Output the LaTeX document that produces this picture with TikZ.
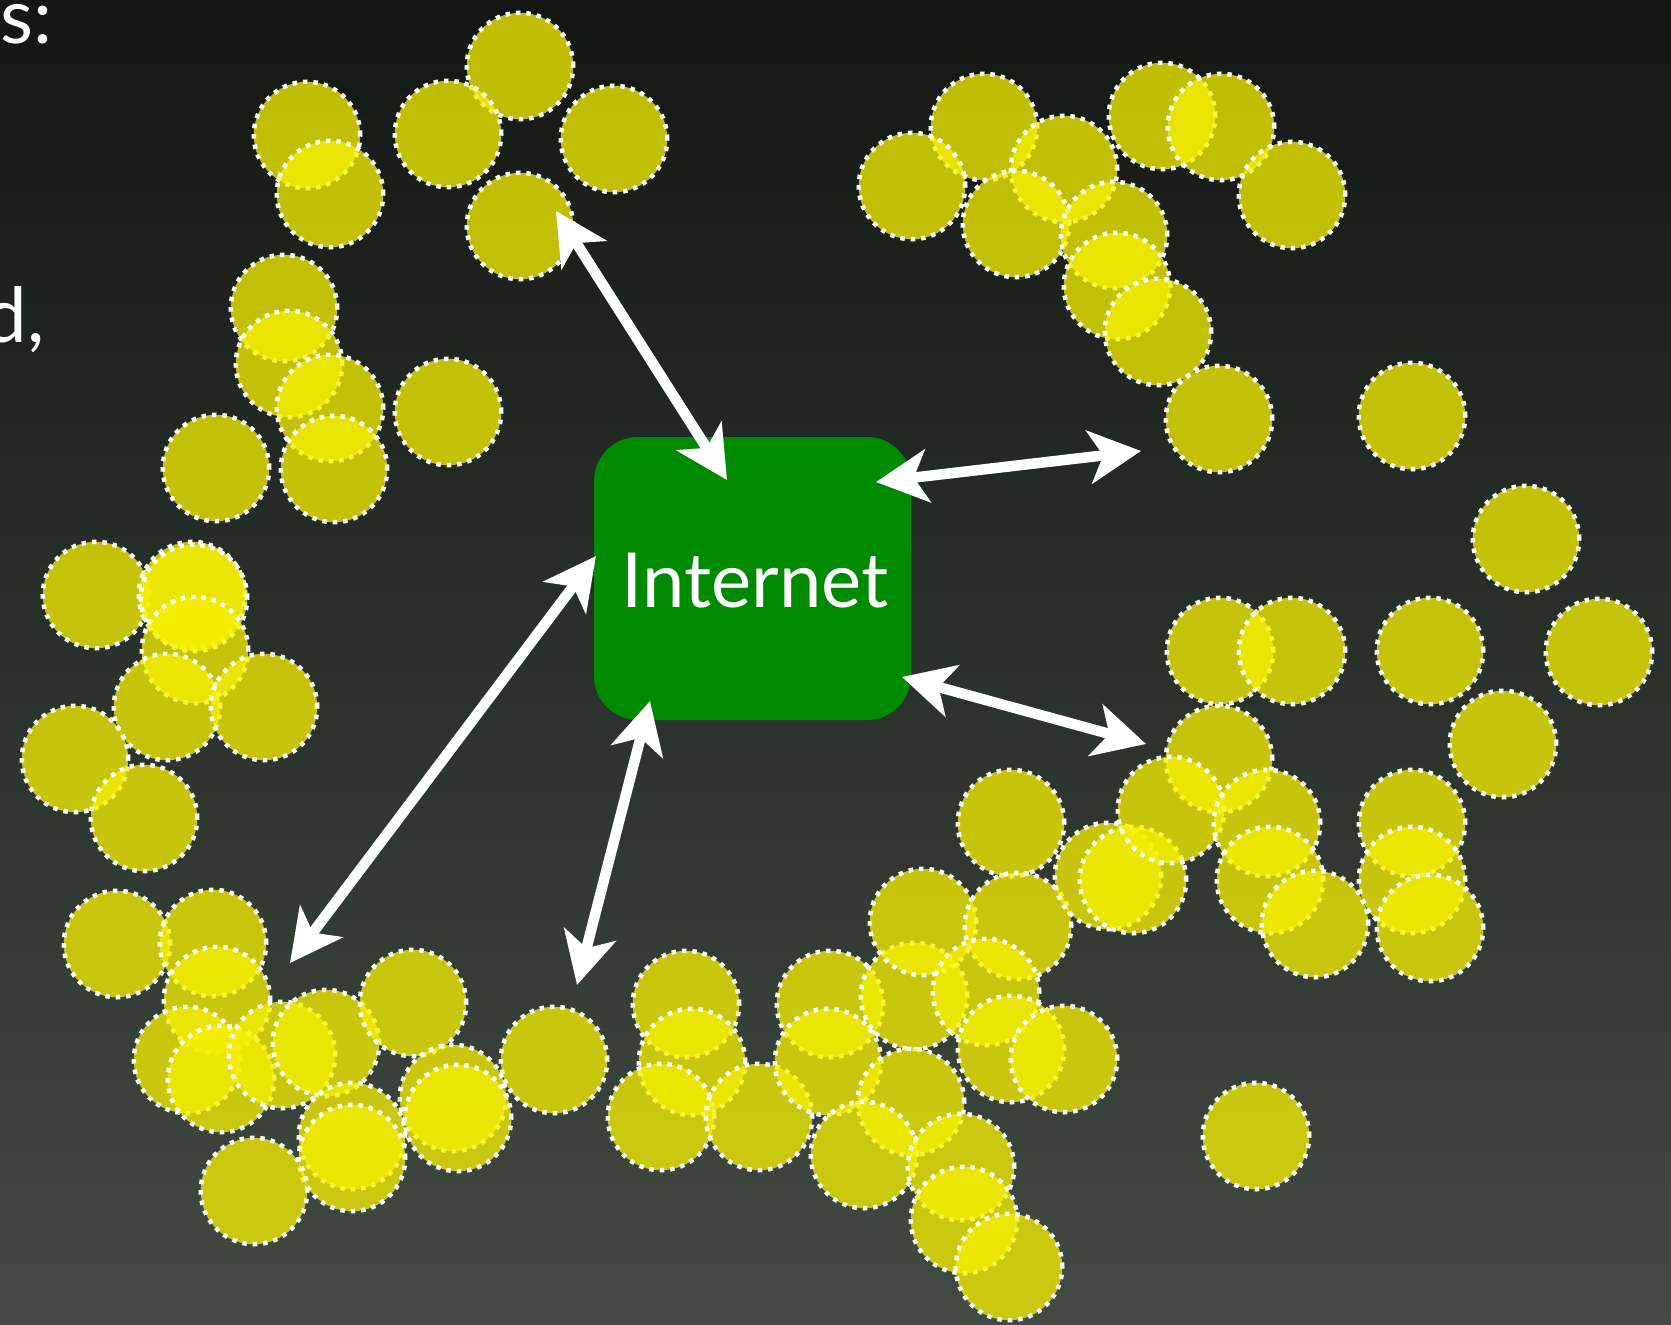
\documentclass[tikz,border=0pt]{standalone}
\usepackage{fontspec}
\setmainfont{Lato}
\usetikzlibrary{arrows.meta}
\definecolor{bgtop}{RGB}{19,23,20}
\definecolor{bgbot}{RGB}{65,74,67}
\definecolor{bubble}{RGB}{246,241,0}
\definecolor{netgreen}{RGB}{0,138,0}
\begin{document}
\begin{tikzpicture}[x=1pt,y=-1pt,
  bub/.style={circle, inner sep=0pt, minimum size=106.5pt, fill=bubble,
    fill opacity=0.76, draw=white, line width=4.5pt,
    dash pattern=on 4.5pt off 5.9pt},
  netbox/.style={rounded corners=44pt, fill=netgreen, minimum width=317pt,
    minimum height=283pt, inner sep=0pt},
  biarrow/.style={draw=white, line width=10.5pt, {Stealth[length=52pt,width=53pt,inset=14pt]}-{Stealth[length=52pt,width=53pt,inset=14pt]}},
  slidetext/.style={text=white, font=\fontsize{76}{90}\selectfont, inner sep=0pt}
]
\useasboundingbox (0,0) rectangle (1671,1325);
\shade[top color=bgtop, bottom color=bgbot] (0,0) rectangle (1671,1325);

% fragments of the slide text on the left
\node[slidetext, anchor=base east] (t1) at (53,43) {s:};
\node[slidetext, anchor=base east] (t2) at (45,342) {d,};

% the hosts
\foreach \x/\y [count=\i] in {
  520/66, 307/135, 448/134, 614/139, 330/194, 520/226,
  284/308, 289/364, 330/408, 448/412, 216/468, 334/469,
  96/595, 192/595, 194/598, 195/650, 167/707, 264/707, 75/759, 144/818,
  117/944, 213/943, 217/1000, 187/1060, 221/1079, 282/1055, 326/1043,
  413/1003, 352/1136, 352/1158, 453/1098, 458/1118, 554/1060, 254/1191,
  686/1004, 692/1062, 661/1117, 759/1117, 830/1004, 828/1062, 914/996,
  923/922, 1011/823, 1018/926, 986/992, 1011/1049, 1064/1059, 911/1102,
  864/1155, 961/1167, 964/1220, 1009/1267,
  1108/876, 1133/880, 1219/759, 1171/810, 1267/823, 1270/880, 1315/924,
  1412/823, 1412/880, 1430/928, 1503/744, 1256/1136, 1220/651, 1292/651,
  1430/651, 1599/652, 1526/539,
  984/127, 912/186, 1064/169, 1016/224, 1114/235, 1117/286, 1158/332,
  1162/116, 1221/127, 1292/195, 1219/419, 1412/416}
  \node[bub] (c\i) at (\x,\y) {};

% the Internet
\node[netbox] (net) at (752.5,578.5) {};
\node[slidetext] (lbl) at (755,581) {Internet};

% connector ends
\coordinate (a1s) at (556,211);  \coordinate (a1e) at (727,480);
\coordinate (a2s) at (876,482);  \coordinate (a2e) at (1141,451);
\coordinate (a3s) at (596,556);  \coordinate (a3e) at (290,963);
\coordinate (a4s) at (650,701);  \coordinate (a4e) at (577,985);
\coordinate (a5s) at (902,677);  \coordinate (a5e) at (1146,744);

\draw[biarrow] (a1s) -- (a1e);
\draw[biarrow] (a2s) -- (a2e);
\draw[biarrow] (a3s) -- (a3e);
\draw[biarrow] (a4s) -- (a4e);
\draw[biarrow] (a5s) -- (a5e);
\end{tikzpicture}
\end{document}
